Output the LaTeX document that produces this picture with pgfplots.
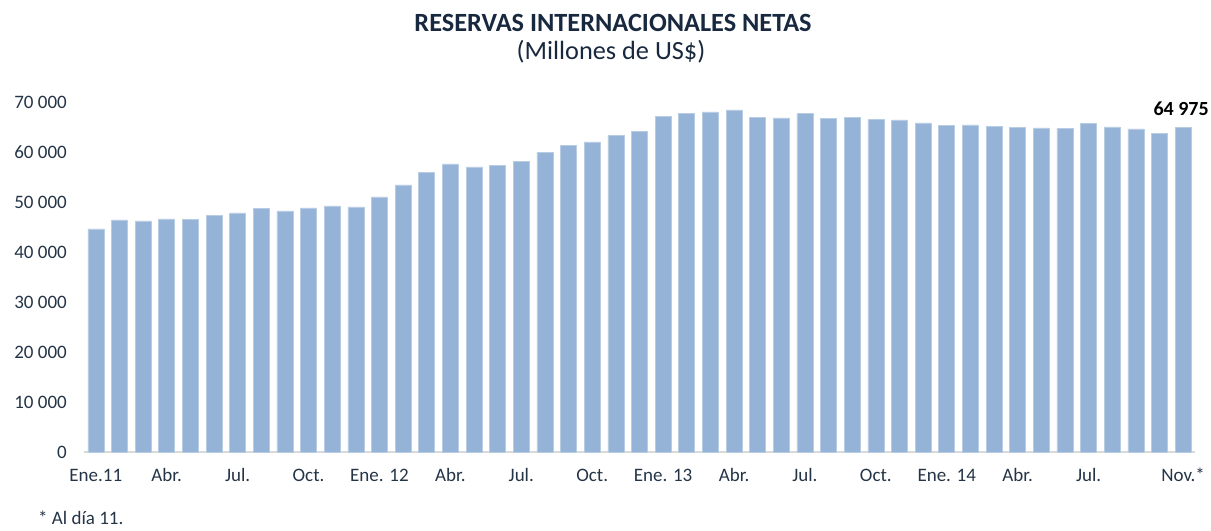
\documentclass[border=0pt]{standalone}
\usepackage{pgfplots}
\pgfplotsset{compat=1.18}
\usepackage{fontspec}
\setmainfont{Carlito}
\definecolor{barblue}{HTML}{95B3D7}
\definecolor{baredge}{HTML}{B8CCE4}
\definecolor{titlecol}{HTML}{17283F}
\definecolor{tickcol}{HTML}{243447}
\definecolor{axcol}{HTML}{D9D9D9}
\pgfplotstableread{
x y
0 44600
1 46400
2 46200
3 46600
4 46450
5 47250
6 47800
7 48650
8 48200
9 48800
10 49200
11 49000
12 51000
13 53400
14 55900
15 57600
16 57000
17 57300
18 58100
19 59900
20 61250
21 62000
22 63300
23 64150
24 67100
25 67700
26 68000
27 68400
28 66850
29 66800
30 67700
31 66750
32 66850
33 66550
34 66400
35 65800
36 65250
37 65400
38 65050
39 64850
40 64800
41 64700
42 65650
43 65000
44 64600
45 63650
46 64975
}\datatable
\begin{document}
\begin{tikzpicture}[x=1bp,y=1bp]
\useasboundingbox (0,0) rectangle (1211,531);
\begin{axis}[
  at={(84bp,79bp)}, anchor=south west,
  scale only axis, width=1111bp, height=350bp,
  xmin=-0.5, xmax=46.5, ymin=0, ymax=70000,
  clip=false,
  axis lines*=left,
  x axis line style={draw=axcol, line width=1.2bp},
  y axis line style={draw=none},
  major tick length=0pt,
  xtick={0,3,6,9,12,15,18,21,24,27,30,33,36,39,42,46},
  xticklabels={Ene.11,Abr.,Jul.,Oct.,Ene. 12,Abr.,Jul.,Oct.,Ene. 13,Abr.,Jul.,Oct.,Ene. 14,Abr.,Jul.,Nov.*},
  ytick={0,10000,...,70000},
  scaled y ticks=false,
  /pgf/number format/.cd, 1000 sep={\ }, assume math mode=true,
  /pgfplots/.cd,
  tick label style={font=\fontsize{19bp}{22bp}\selectfont, text=tickcol, inner sep=0pt},
  xticklabel style={anchor=base, yshift=-30bp},
  yticklabel style={anchor=east, xshift=-17bp},
]
\addplot[ybar, bar width=16bp, bar shift=0pt, fill=barblue, draw=baredge, line width=0.6bp] table[x=x,y=y]{\datatable};
\node[anchor=base, font=\fontsize{20bp}{24bp}\selectfont\bfseries, text=black] at (axis cs:46,64975) [xshift=-2bp, yshift=12bp] {64 975};
\end{axis}
\node[anchor=base, font=\fontsize{26.3bp}{30bp}\selectfont\bfseries, text=titlecol] at (613,499.5) {RESERVAS INTERNACIONALES NETAS};
\node[anchor=base, font=\fontsize{26.3bp}{30bp}\selectfont, text=titlecol] at (611,471.5) {(Millones de US\$)};
\node[anchor=base west, font=\fontsize{19bp}{22bp}\selectfont, text=tickcol, inner sep=0pt] at (38,6) {* Al día 11.};
\end{tikzpicture}
\end{document}
